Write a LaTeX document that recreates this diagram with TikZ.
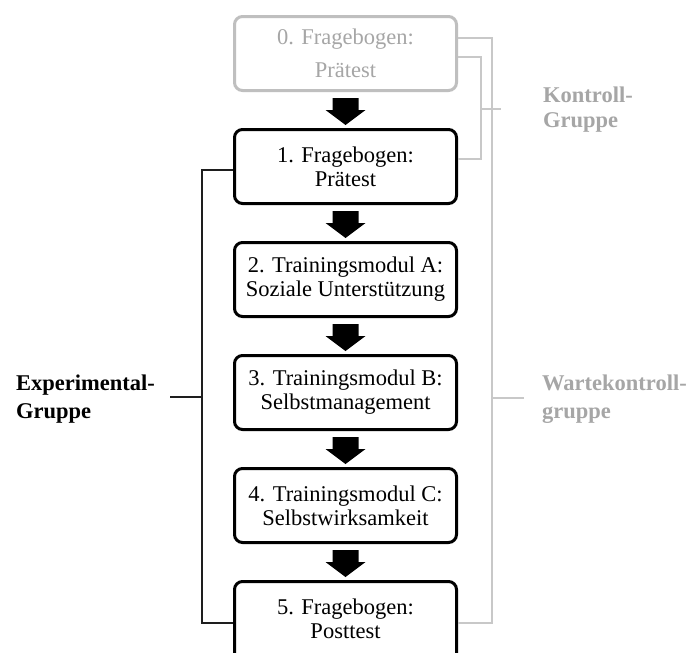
\documentclass[tikz,border=0pt]{standalone}
\usepackage{fontspec}
\setmainfont{Liberation Serif}
\usetikzlibrary{calc}
\definecolor{boxgrey}{HTML}{BFBFBF}
\definecolor{textgrey}{HTML}{A6A6A6}
\definecolor{linegrey}{HTML}{C8C8C8}
\definecolor{darkline}{HTML}{1E1E1E}
\begin{document}
\begin{tikzpicture}[x=1pt,y=-1pt,
  stepbox/.style={draw=black, line width=3pt, rounded corners=8pt,
    minimum width=222pt, minimum height=74pt, inner sep=0pt, align=center,
    font=\fontsize{22.5}{24}\selectfont},
  pastbox/.style={stepbox, draw=boxgrey, text=textgrey,
    font=\fontsize{22.5}{33}\selectfont},
  flow/.style={fill=black},
  grouplabel/.style={anchor=base west, inner sep=0pt, align=left,
    font=\fontsize{22.5}{28}\selectfont\bfseries},
  expline/.style={draw=darkline, line width=2pt},
  ctlline/.style={draw=linegrey, line width=2pt}
]
% canvas
\fill[white] (0,0) rectangle (686,653);
\useasboundingbox (0,0) rectangle (686,653);

% study steps
\node[pastbox] (b0) at (345.5,53.5)  {0. Fragebogen:\\Prätest};
\node[stepbox] (b1) at (345.5,166.5) {1. Fragebogen:\\Prätest};
\node[stepbox] (b2) at (345.5,279.5) {2. Trainingsmodul A:\\Soziale Unterstützung};
\node[stepbox] (b3) at (345.5,392.5) {3. Trainingsmodul B:\\Selbstmanagement};
\node[stepbox] (b4) at (345.5,505.5) {4. Trainingsmodul C:\\Selbstwirksamkeit};
% last step runs past the lower page edge
\node[stepbox, minimum height=90pt, text depth=16pt] (b5) at (345.5,626.5)
  {5. Fragebogen:\\Posttest};

% block arrows between the steps (shaft 26 wide, head 40 wide and 15 long)
\foreach \a/\b in {b0/b1,b1/b2,b2/b3,b3/b4,b4/b5}{
  \coordinate (s) at ($(\a.south)+(0,6)$);
  \coordinate (t) at ($(\b.north)+(0,-3)$);
  \fill[flow] ($(s)+(-13,0)$) -- ($(s)+(13,0)$) -- ($(t)+(13,-15)$)
    -- ($(t)+(20,-15)$) -- (t) -- ($(t)+(-20,-15)$) -- ($(t)+(-13,-15)$) -- cycle;
}

% experimental group bracket
\coordinate (eTop) at (202,170);
\coordinate (eBot) at (202,623);
\coordinate (eTick) at (170,397);
\draw[expline] (b1.west |- eTop) -- (eTop) -- (eBot) -- (b5.west |- eBot);
\draw[expline] (eTick) -- (eTick -| eTop);

% waiting control group bracket
\coordinate (wTop) at (492,38);
\coordinate (wBot) at (492,623);
\coordinate (wTick) at (524,398);
\draw[ctlline] (b0.east |- wTop) -- (wTop) -- (wBot) -- (b5.east |- wBot);
\draw[ctlline] (wTick -| wTop) -- (wTick);

% control group bracket
\coordinate (kTop) at (481,57);
\coordinate (kBot) at (481,159);
\coordinate (kTick) at (501,109);
\draw[ctlline] (b0.east |- kTop) -- (kTop) -- (kBot) -- (b1.east |- kBot);
\draw[ctlline] (kTick -| kTop) -- (kTick);

% group labels (anchored at the baseline of their last line)
\node[grouplabel, text=textgrey, font=\fontsize{22.5}{25}\selectfont\bfseries]
  (lk) at (543,127) {Kontroll-\\Gruppe};
\node[grouplabel] (le) at (16,418) {Experimental-\\Gruppe};
\node[grouplabel, text=textgrey] (lw) at (542,418) {Wartekontroll-\\gruppe};
\end{tikzpicture}
\end{document}
